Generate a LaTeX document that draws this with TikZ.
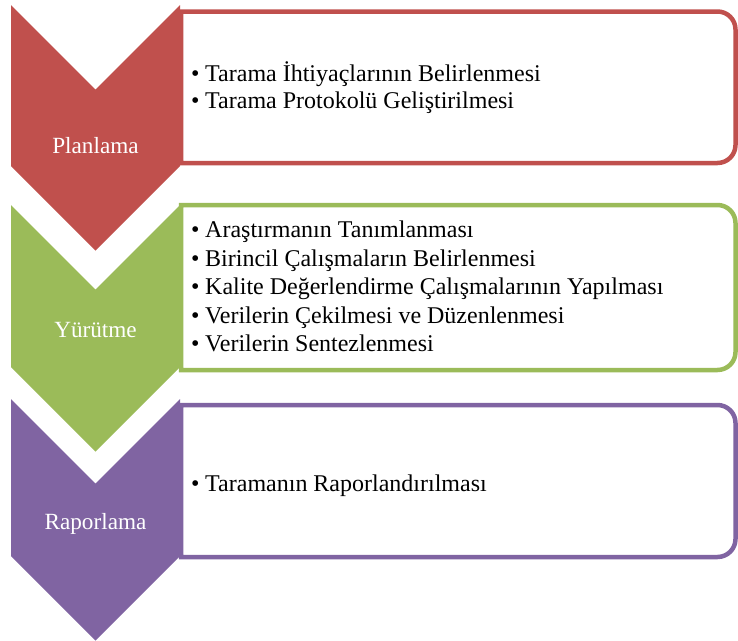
\documentclass[tikz,border=0pt]{standalone}
\usepackage{fontspec}
\setmainfont{Liberation Serif}
\definecolor{cred}{HTML}{C0504D}
\definecolor{cgreen}{HTML}{9BBB59}
\definecolor{cpurple}{HTML}{8064A2}
\tikzset{
  stagebox/.style={draw=#1, line width=4.5pt, fill=white},
  chev/.style={fill=#1, draw=none},
  stagelabel/.style={text=white, inner sep=0pt, anchor=base, font=\fontsize{23.2}{27}\selectfont},
  itemline/.style={text=black, inner sep=0pt, anchor=base west, font=\fontsize{24}{28}\selectfont}
}
\newcommand{\bul}{\makebox[14pt][l]{•}}
\begin{document}
\begin{tikzpicture}[x=1pt,y=1pt]
\useasboundingbox (0,0) rectangle (738,-640);
% ---- Planlama ----
\draw[stagebox=cred] (181,-11.5) -- (717.5,-11.5) arc[start angle=90,end angle=0,radius=18] -- (735.5,-145) arc[start angle=0,end angle=-90,radius=18] -- (181,-163) -- cycle;
\path[chev=cred] (11,-5) -- (95.5,-89.5) -- (180,-5) -- (180,-166) -- (95.5,-250.5) -- (11,-166) -- cycle;
\node[stagelabel] (lp) at (95.5,-153.5) {Planlama};
\node[itemline] (r1) at (191,-81) {\bul Tarama İhtiyaçlarının Belirlenmesi};
\node[itemline] (r2) at (191,-108.5) {\bul Tarama Protokolü Geliştirilmesi};
% ---- Yürütme ----
\draw[stagebox=cgreen] (181,-205) -- (717.5,-205) arc[start angle=90,end angle=0,radius=18] -- (735.5,-352) arc[start angle=0,end angle=-90,radius=18] -- (181,-370) -- cycle;
\path[chev=cgreen] (11,-205) -- (95.5,-289.5) -- (180,-205) -- (180,-367) -- (95.5,-451.5) -- (11,-367) -- cycle;
\node[stagelabel] (ly) at (95.5,-337) {Yürütme};
\node[itemline] (g1) at (191,-237.5) {\bul Araştırmanın Tanımlanması};
\node[itemline] (g2) at (191,-266) {\bul Birincil Çalışmaların Belirlenmesi};
\node[itemline] (g3) at (191,-294.5) {\bul Kalite Değerlendirme Çalışmalarının Yapılması};
\node[itemline] (g4) at (191,-323) {\bul Verilerin Çekilmesi ve Düzenlenmesi};
\node[itemline] (g5) at (191,-351.5) {\bul Verilerin Sentezlenmesi};
% ---- Raporlama ----
\draw[stagebox=cpurple] (181,-405) -- (717.5,-405) arc[start angle=90,end angle=0,radius=18] -- (735.5,-539) arc[start angle=0,end angle=-90,radius=18] -- (181,-557) -- cycle;
\path[chev=cpurple] (11,-399) -- (95.5,-483.5) -- (180,-399) -- (180,-556) -- (95.5,-640.5) -- (11,-556) -- cycle;
\node[stagelabel] (lr) at (95.5,-529) {Raporlama};
\node[itemline] (p1) at (191,-491) {\bul Taramanın Raporlandırılması};
\end{tikzpicture}
\end{document}
